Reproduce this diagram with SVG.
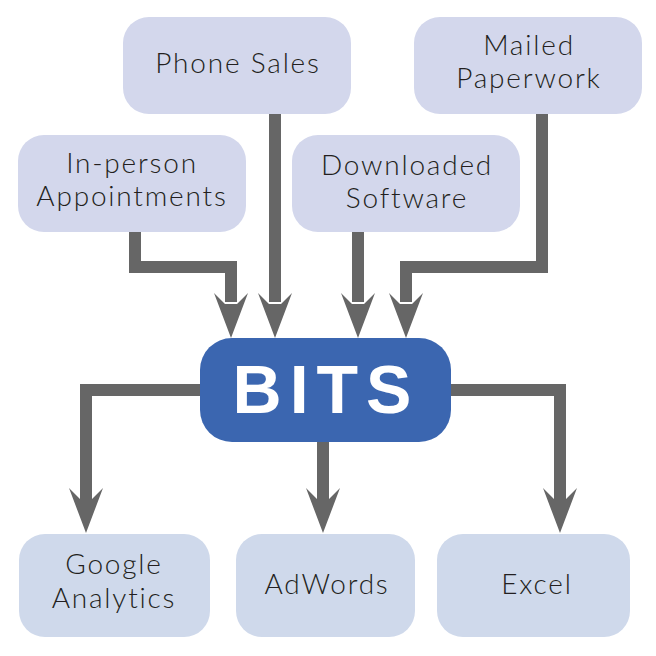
<svg xmlns="http://www.w3.org/2000/svg" width="656" height="656" viewBox="0 0 656 656">
<style>
.top{fill:#d3d7ec}
.bot{fill:#cfd9eb}
.lbl{font-family:"Lato","Open Sans","Liberation Sans",sans-serif;font-weight:300;font-size:28px;letter-spacing:1.8px;fill:#231f20;text-anchor:middle}
.ln{fill:none;stroke:#666666;stroke-width:12;stroke-linejoin:miter}
.ah{fill:#666666}
</style>
<defs>
<path id="head" d="M0,0 L-17,-45 L-6,-34 L6,-34 L17,-45 Z"/>
</defs>
<rect width="656" height="656" fill="#ffffff"/>
<g id="connectors">
<polyline class="ln" points="135,232 135,267 231,267 231,302"/>
<polyline class="ln" points="275,113 275,302"/>
<polyline class="ln" points="358,232 358,302"/>
<polyline class="ln" points="542,113 542,267 406,267 406,302"/>
<polyline class="ln" points="201,390 86,390 86,500"/>
<polyline class="ln" points="323,441 323,500"/>
<polyline class="ln" points="450,390 560,390 560,500"/>
<use href="#head" class="ah" x="231" y="338"/>
<use href="#head" class="ah" x="275" y="338"/>
<use href="#head" class="ah" x="358" y="338"/>
<use href="#head" class="ah" x="406" y="338"/>
<use href="#head" class="ah" x="86" y="533"/>
<use href="#head" class="ah" x="323" y="533"/>
<use href="#head" class="ah" x="560" y="533"/>
</g>
<g id="phone-sales">
<rect class="top" x="123" y="17" width="228" height="97" rx="26"/>
<text class="lbl" x="238" y="73">Phone Sales</text>
</g>
<g id="mailed-paperwork">
<rect class="top" x="414" y="17" width="228" height="97" rx="26"/>
<text class="lbl" x="529" y="55">Mailed</text>
<text class="lbl" x="529" y="88">Paperwork</text>
</g>
<g id="in-person">
<rect class="top" x="18" y="135" width="228" height="97" rx="26"/>
<text class="lbl" x="132" y="173">In-person</text>
<text class="lbl" x="132" y="206">Appointments</text>
</g>
<g id="downloaded-software">
<rect class="top" x="292" y="135" width="228" height="97" rx="26"/>
<text class="lbl" x="407" y="175">Downloaded</text>
<text class="lbl" x="407" y="208">Software</text>
</g>
<g id="bits">
<rect x="200" y="338" width="251" height="104" rx="32" fill="#3b66b0"/>
<text x="326" y="413" font-family="'Liberation Sans',Arial,sans-serif" font-weight="bold" font-size="68" letter-spacing="8" fill="#ffffff" text-anchor="middle">BITS</text>
</g>
<g id="google-analytics">
<rect class="bot" x="19" y="534" width="191" height="103" rx="26"/>
<text class="lbl" x="114" y="574">Google</text>
<text class="lbl" x="114" y="608">Analytics</text>
</g>
<g id="adwords">
<rect class="bot" x="236" y="534" width="179" height="103" rx="26"/>
<text class="lbl" x="327" y="594">AdWords</text>
</g>
<g id="excel">
<rect class="bot" x="437" y="534" width="193" height="103" rx="26"/>
<text class="lbl" x="537" y="594">Excel</text>
</g>
</svg>
